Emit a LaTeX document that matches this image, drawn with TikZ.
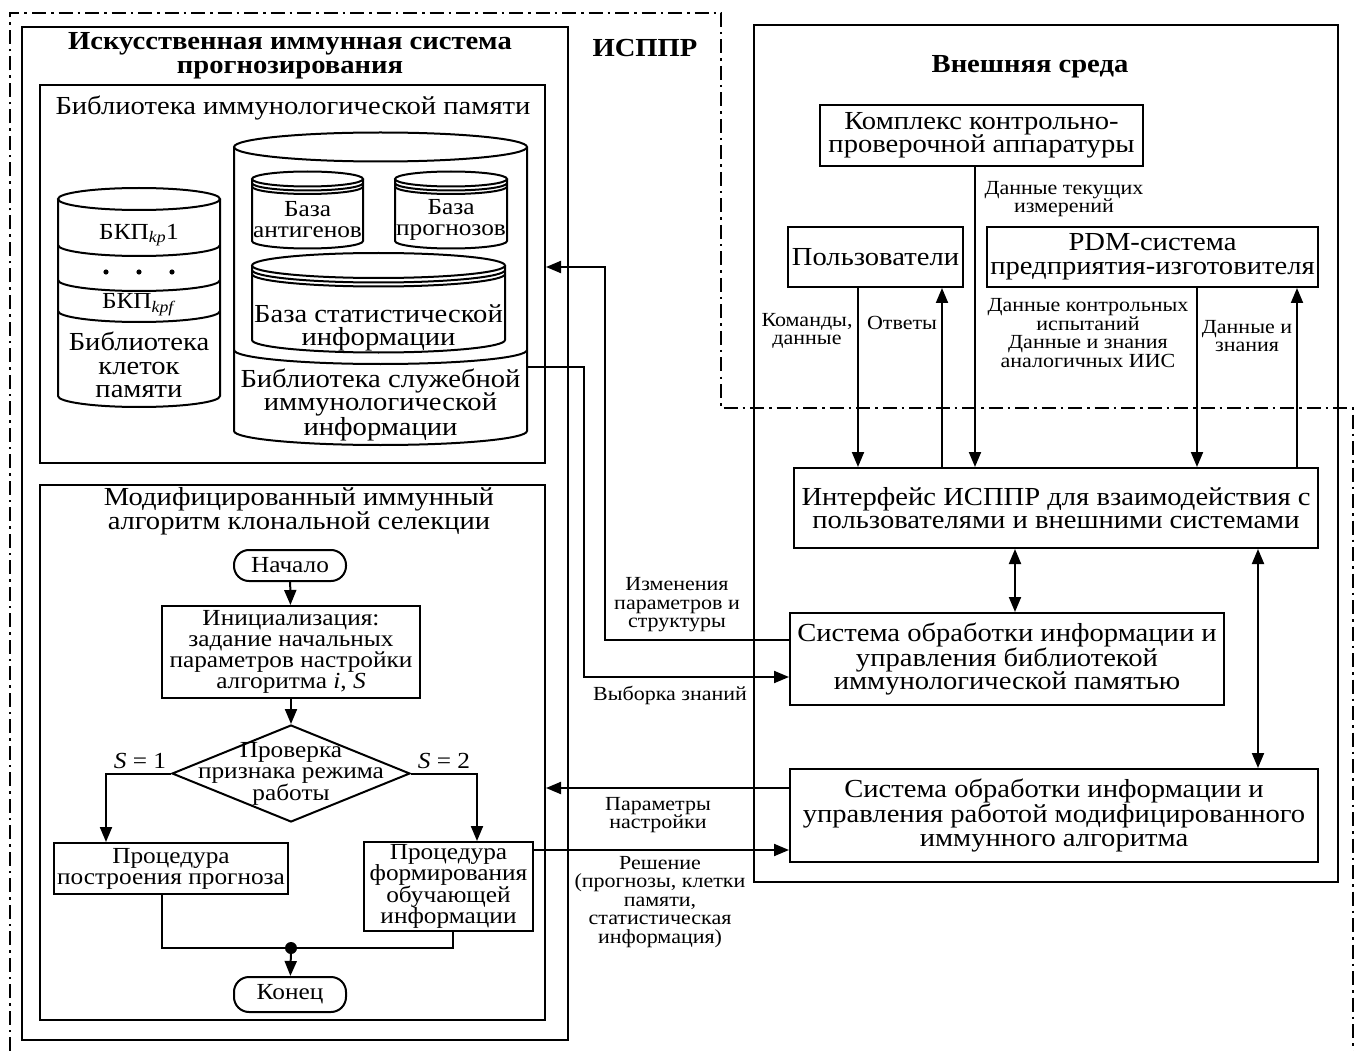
\documentclass[tikz,border=0pt]{standalone}
\usepackage{fontspec}
\setmainfont{Liberation Serif}[FakeStretch=1.1]
\usetikzlibrary{positioning, arrows.meta, calc, shapes.geometric}

\newcommand{\fsmain}{\fontsize{26}{23.5}\selectfont}
\newcommand{\fsflow}{\fontsize{23}{21}\selectfont}
\newcommand{\fssmall}{\fontsize{20}{18.5}\selectfont}

\begin{document}
\begin{tikzpicture}[
    x=1pt, y=-1pt,
    >={Triangle[length=15pt, width=12pt]},
    outerbox/.style={draw, line width=2.8pt, inner sep=0pt},
    box/.style={draw, line width=2pt, inner sep=0pt, align=center, font=\fsmain},
    flowbox/.style={draw, line width=2pt, inner sep=0pt, align=center, font=\fsflow},
    term/.style={flowbox, rounded corners=15pt, minimum width=112pt},
    ttl/.style={align=center, inner sep=0pt, font=\fsmain\bfseries},
    txt/.style={align=center, inner sep=0pt, font=\fsmain},
    ftxt/.style={align=center, inner sep=0pt, font=\fsflow},
    lbl/.style={align=center, inner sep=0pt, font=\fssmall},
    cyl/.style={line width=2pt},
    arr/.style={->, line width=2pt},
    biarr/.style={<->, line width=2pt},
    ddline/.style={line width=2.6pt, dash pattern=on 14pt off 5pt on 2.5pt off 5pt}
]
    \useasboundingbox (0,0) rectangle (1361,1051);

    \draw[ddline] (10,1051) -- (10,13) -- (721,13) -- (721,408) -- (1353,408) -- (1353,1051);
    \node[ttl] (isppr) at (645,48) {ИСППР};

    \node[outerbox, minimum width=546pt, minimum height=1013pt] (ais) at (295,533.5) {};
    \node[ttl] (aistitle) at (290,56) {Искусственная иммунная система\\прогнозирования};

    \node[box, minimum width=505pt, minimum height=378pt] (lib) at (292.5,274) {};
    \node[txt] (libtitle) at (293,108) {Библиотека иммунологической памяти};

    % memory cells library
    \draw[cyl] (58,199) -- (58,396) arc[start angle=180, end angle=360, x radius=81pt, y radius=11pt] -- (220,199);
    \draw[cyl] (139,199) ellipse [x radius=81pt, y radius=11pt];
    \foreach \yy in {245,280,311}
        \draw[cyl] (58,\yy) arc[start angle=180, end angle=360, x radius=81pt, y radius=11pt];
    \node[ftxt] (kp1) at (139,235) {БКП\textsubscript{\textit{kp}}1};
    \foreach \xx in {106,139,172}
        \fill (\xx,272) circle (2.6pt);
    \node[ftxt] (kpf) at (139,305) {БКП\textsubscript{\textit{kpf}}};
    \node[txt] (kplib) at (139,365) {Библиотека\\клеток\\памяти};

    % service library
    \draw[cyl] (234,147) -- (234,431) arc[start angle=180, end angle=360, x radius=146.5pt, y radius=14pt] -- (527,147);
    \draw[cyl] (380.5,147) ellipse [x radius=146.5pt, y radius=14.5pt];
    \draw[cyl] (234,350) arc[start angle=180, end angle=360, x radius=146.5pt, y radius=14pt];
    \node[txt] (service) at (380.5,405) {Библиотека служебной\\иммунологической\\информации};

    \draw[cyl] (252,179) -- (252,241) arc[start angle=180, end angle=360, x radius=55.5pt, y radius=7.5pt] -- (363,179);
    \draw[cyl] (307.5,179) ellipse [x radius=55.5pt, y radius=7.5pt];
    \draw[cyl] (252,183) arc[start angle=180, end angle=360, x radius=55.5pt, y radius=7.5pt];
    \draw[cyl] (252,186.5) arc[start angle=180, end angle=360, x radius=55.5pt, y radius=7.5pt];
    \node[ftxt] (antigen) at (307.5,220) {База\\антигенов};

    \draw[cyl] (395,179) -- (395,241) arc[start angle=180, end angle=360, x radius=56pt, y radius=7.5pt] -- (507,179);
    \draw[cyl] (451,179) ellipse [x radius=56pt, y radius=7.5pt];
    \draw[cyl] (395,183) arc[start angle=180, end angle=360, x radius=56pt, y radius=7.5pt];
    \draw[cyl] (395,186.5) arc[start angle=180, end angle=360, x radius=56pt, y radius=7.5pt];
    \node[ftxt] (forecast) at (451,220) {База\\прогнозов};

    \draw[cyl] (252,265.5) -- (252,340) arc[start angle=180, end angle=360, x radius=126.5pt, y radius=12.5pt] -- (505,265.5);
    \draw[cyl] (378.5,265.5) ellipse [x radius=126.5pt, y radius=12.5pt];
    \draw[cyl] (252,270) arc[start angle=180, end angle=360, x radius=126.5pt, y radius=12.5pt];
    \draw[cyl] (252,274) arc[start angle=180, end angle=360, x radius=126.5pt, y radius=12.5pt];
    \node[txt] (stat) at (378.5,328) {База статистической\\информации};
    \coordinate (statout) at (527,367);

    % clonal selection algorithm
    \node[box, minimum width=505pt, minimum height=535pt] (alg) at (292.5,752.5) {};
    \node[txt] (algtitle) at (299,511) {Модифицированный иммунный\\алгоритм клональной селекции};

    \node[term, minimum height=31pt] (start) at (290,565.5) {Начало};
    \node[flowbox, minimum width=258pt, minimum height=92pt] (init) at (291,652) {Инициализация:\\задание начальных\\параметров настройки\\алгоритма \textit{i}, \textit{S}};
    \node[draw, diamond, line width=2pt, inner sep=0pt, minimum width=238pt, minimum height=97pt] (check) at (291,773.5) {};
    \node[ftxt] (checktxt) at (291,774) {Проверка\\признака режима\\работы};
    \node[flowbox, minimum width=234pt, minimum height=51pt] (proc1) at (171,868.5) {Процедура\\построения прогноза};
    \node[flowbox, minimum width=169pt, minimum height=89pt] (proc2) at (448.5,886.5) {Процедура\\формирования\\обучающей\\информации};
    \node[term, minimum height=35pt] (stop) at (290,994.5) {Конец};
    \coordinate (join) at (291,948);

    \draw[arr] (start) -- (init);
    \draw[arr] (init) -- (check);
    \draw[arr] (check.west) -| ([xshift=-65pt]proc1.north);
    \draw[arr] (check.east) -| ([xshift=28.5pt]proc2.north);
    \node[ftxt] (s1) at (140,761) {\textit{S} = 1};
    \node[ftxt] (s2) at (444,761) {\textit{S} = 2};
    \draw[line width=2pt] ([xshift=-9pt]proc1.south) |- (join) -| ([xshift=4.5pt]proc2.south);
    \fill (join) circle (6pt);
    \draw[arr] (join) -- (stop);

    % environment
    \node[box, minimum width=584pt, minimum height=857pt] (env) at (1046,453.5) {};
    \node[ttl] (envtitle) at (1030,67) {Внешняя среда};
    \node[box, minimum width=323pt, minimum height=61pt] (kpa) at (981.5,135.5) {Комплекс контрольно-\\проверочной аппаратуры};
    \node[box, minimum width=175pt, minimum height=60pt] (users) at (875.5,257) {Пользователи};
    \node[box, minimum width=331pt, minimum height=60pt] (pdm) at (1152.5,257) {PDM-система\\предприятия-изготовителя};
    \node[box, minimum width=524pt, minimum height=80pt] (iface) at (1056,508) {Интерфейс ИСППР для взаимодействия с\\пользователями и внешними системами};
    \node[box, minimum width=434pt, minimum height=92pt] (libsys) at (1007,659) {Система обработки информации и\\управления библиотекой\\иммунологической памятью};
    \node[box, minimum width=528pt, minimum height=93pt] (algsys) at (1054,815.5) {Система обработки информации и\\управления работой модифицированного\\иммунного алгоритма};

    \draw[arr] ([xshift=-17.5pt]users.south) -- ([xshift=-17.5pt]users.south |- iface.north);
    \draw[arr] ([xshift=66.5pt]users.south |- iface.north) -- ([xshift=66.5pt]users.south);
    \draw[arr] ([xshift=-6.5pt]kpa.south) -- ([xshift=-6.5pt]kpa.south |- iface.north);
    \draw[arr] ([xshift=44.5pt]pdm.south) -- ([xshift=44.5pt]pdm.south |- iface.north);
    \draw[arr] ([xshift=144.5pt]pdm.south |- iface.north) -- ([xshift=144.5pt]pdm.south);
    \draw[biarr] ([xshift=8pt]libsys.north) -- ([xshift=8pt]libsys.north |- iface.south);
    \draw[biarr] ([xshift=204pt]algsys.north) -- ([xshift=204pt]algsys.north |- iface.south);

    \node[lbl] (curdata) at (1064,199) {Данные текущих\\измерений};
    \node[lbl] (cmds) at (807,331) {Команды,\\данные};
    \node[lbl] (answers) at (902,323) {Ответы};
    \node[lbl] (testdata) at (1088,333) {Данные контрольных\\испытаний\\Данные и знания\\аналогичных ИИС};
    \node[lbl] (pdmdata) at (1247,336) {Данные и\\знания};

    % links between the two parts
    \draw[arr] ([yshift=19pt]libsys.west) -| ($([yshift=7pt]lib.east)+(59,0)$) -- ([yshift=7pt]lib.east);
    \draw[arr] (statout) -| ($([yshift=-18pt]libsys.west)+(-205,0)$) -- ([yshift=-18pt]libsys.west);
    \draw[arr] ([yshift=27.5pt]algsys.west) -- ([yshift=27.5pt]algsys.west -| alg.east);
    \draw[arr] ([yshift=36.5pt]proc2.east) -- ([yshift=36.5pt]proc2.east -| algsys.west);

    \node[lbl] (changes) at (677,605) {Изменения\\параметров и\\структуры};
    \node[lbl] (sample) at (670,695) {Выборка знаний};
    \node[lbl] (params) at (658,815) {Параметры\\настройки};
    \node[lbl] (solution) at (660,902) {Решение\\(прогнозы, клетки\\памяти,\\статистическая\\информация)};
\end{tikzpicture}
\end{document}
